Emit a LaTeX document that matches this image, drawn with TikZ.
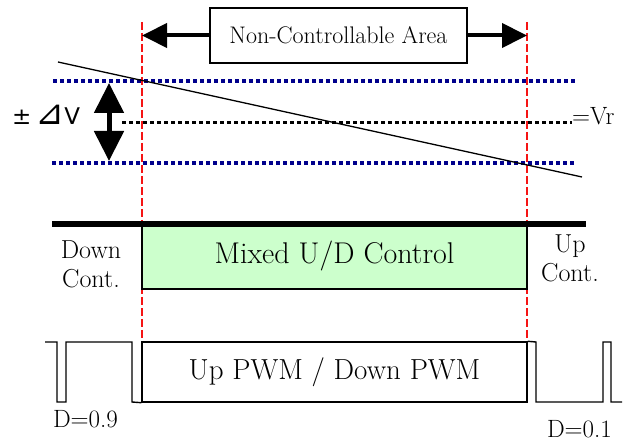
\documentclass[tikz,border=0pt]{standalone}
\usepackage{fontspec}
\newfontfamily\symfont{DejaVu Sans}
\usetikzlibrary{arrows.meta}
\definecolor{guidered}{RGB}{245,20,20}
\definecolor{bandblue}{RGB}{0,0,140}
\definecolor{mixgreen}{RGB}{204,255,204}
\newcommand{\fs}[1]{\fontsize{#1}{#1}\selectfont}
\begin{document}
\begin{tikzpicture}[x=1pt,y=-1pt,
  guide/.style={draw=guidered,line width=1.5pt,dash pattern=on 8pt off 3pt},
  band/.style={line width=3.6pt,dash pattern=on 3.6pt off 3.4pt},
  thinline/.style={line width=1.3pt},
  wave/.style={line width=1.4pt},
  bigarrow/.style={line width=4pt,-{Triangle[length=25pt,width=24pt]}},
  dblarrow/.style={line width=5pt,{Triangle[length=30pt,width=29pt]}-{Triangle[length=30pt,width=29pt]}},
  lbl/.style={inner sep=0pt,align=center}]
  \useasboundingbox (0,0) rectangle (627,443);

  % guide lines bounding the mixed region
  \coordinate (gLtop) at (142,22);
  \coordinate (gLbot) at (142,338);
  \coordinate (gRtop) at (527,22);
  \coordinate (gRbot) at (527,340);
  \draw[guide] (gLtop) -- (gLbot);
  \draw[guide] (gRtop) -- (gRbot);

  % non-controllable area label with arrows
  \node[draw,thinline,fill=white,minimum width=257pt,minimum height=55pt,inner sep=0pt,
        font=\fs{24}] (nca) at (338.5,35.5) {Non-Controllable Area};
  \coordinate (aL) at (142,35.5);
  \coordinate (aR) at (527,35.5);
  \draw[bigarrow] (nca.west) -- (aL);
  \draw[bigarrow] (nca.east) -- (aR);

  % voltage band
  \coordinate (ub1) at (53,81);
  \coordinate (ub2) at (577,81);
  \coordinate (lb1) at (52,163);
  \coordinate (lb2) at (575,163);
  \draw[band,bandblue] (ub1) -- (ub2);
  \draw[band,bandblue] (lb1) -- (lb2);

  % reference level
  \node[lbl,anchor=base west,font=\fs{25}] (vr) at (572,125) {=Vr};
  \coordinate (vr1) at (122,122.7);
  \draw[band,black] (vr1) -- (vr1 -| vr.west);

  % sloped voltage
  \coordinate (s1) at (58,62);
  \coordinate (s2) at (582,177);
  \draw[thinline] (s1) -- (s2);

  % band width arrow and label
  \coordinate (d1) at (109,83);
  \coordinate (d2) at (109,161);
  \draw[dblarrow] (d1) -- (d2);
  \node[lbl,anchor=base west,font=\symfont\fs{23}] (dv) at (12,125)
       {±\hspace{4pt}\scalebox{1.5}{⊿}V};

  % mixed control region
  \node[draw,fill=mixgreen,line width=1.5pt,minimum width=385pt,minimum height=65pt,
        inner sep=0pt,font=\fs{30}] (mix) at (334.5,256.5) {Mixed U/D Control};
  \coordinate (t1) at (52,224);
  \coordinate (t2) at (586,224);
  \draw[line width=5.5pt] (t1) -- (t2);
  \node[lbl,anchor=north,font=\fontsize{26}{29}\selectfont]
       (dc) at (91,241) {Down\\Cont.};
  \node[lbl,anchor=north,font=\fontsize{26}{29}\selectfont]
       (uc) at (570,235) {Up\\Cont.};

  % PWM waveform
  \node[draw,wave,fill=white,minimum width=385pt,minimum height=60pt,inner sep=0pt,
        font=\fs{29}] (pwm) at (334.5,372) {Up PWM / Down PWM};
  \draw[wave] (45,342) -| (57,402) -| (66,342) -| (132,402) -- (pwm.south west);
  \draw[wave] (pwm.north east) -- (536,342) |- (603,402) |- (611,342) |- (622,402);
  \node[lbl,anchor=base,font=\fs{25}] (d9) at (85.5,428) {D=0.9};
  \node[lbl,anchor=base,font=\fs{25}] (d1l) at (579.5,438) {D=0.1};
\end{tikzpicture}
\end{document}
